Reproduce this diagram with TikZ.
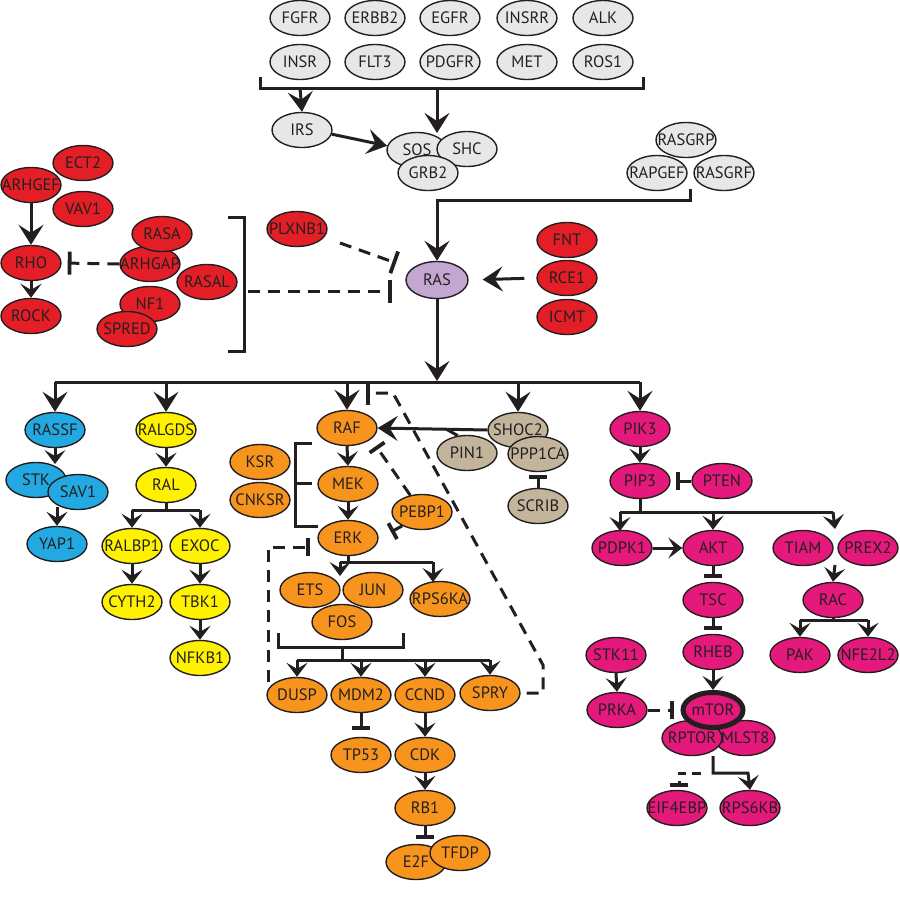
\documentclass[tikz,border=0pt]{standalone}
\usepackage{fontspec}
\setmainfont{PT Sans}
\usetikzlibrary{shapes.geometric,arrows.meta}
\definecolor{cgray}{HTML}{E6E7E8}
\definecolor{cred}{HTML}{E41E26}
\definecolor{cpur}{HTML}{C4A7D0}
\definecolor{cblue}{HTML}{22A9E1}
\definecolor{cyel}{HTML}{FFF200}
\definecolor{corg}{HTML}{F7941D}
\definecolor{ctan}{HTML}{C2B59B}
\definecolor{cpink}{HTML}{E5187C}
\definecolor{txtc}{HTML}{231F20}
\newcommand\tx[1]{\makebox[0pt]{#1}}
\tikzset{
  nd/.style={ellipse, draw=txtc, line width=1.4pt, minimum width=60pt, minimum height=35pt, inner sep=0pt, font=\fontsize{16.5}{16.5}\selectfont, text=txtc},
  ngray/.style={nd, fill=cgray},
  nred/.style={nd, fill=cred},
  npur/.style={nd, fill=cpur},
  nblue/.style={nd, fill=cblue},
  nyel/.style={nd, fill=cyel},
  norg/.style={nd, fill=corg},
  ntan/.style={nd, fill=ctan},
  npink/.style={nd, fill=cpink},
  ln/.style={line width=3pt, draw=txtc},
  ar/.style={ln, -{Stealth[length=20pt,width=25pt,inset=8pt]}},
  ars/.style={ln, -{Stealth[length=14pt,width=21pt,inset=6pt]}},
  inh/.style={ln, -{Bar[width=23pt,line width=3.8pt]}},
  inhs/.style={ln, -{Bar[width=18pt,line width=3.8pt]}},
  dsh/.style={dash pattern=on 12pt off 8pt},
}
\begin{document}
\begin{tikzpicture}[x=1pt,y=-1pt]
\useasboundingbox (0,0) rectangle (900,900);
% ---------- receptors ----------
\node[ngray] (FGFR)  at (300,18) {\tx{FGFR}};
\node[ngray] (ERBB2) at (375,18) {\tx{ERBB2}};
\node[ngray] (EGFR)  at (450,18) {\tx{EGFR}};
\node[ngray] (INSRR) at (527,18) {\tx{INSRR}};
\node[ngray] (ALK)   at (603,18) {\tx{ALK}};
\node[ngray] (INSR)  at (300,62) {\tx{INSR}};
\node[ngray] (FLT3)  at (375,62) {\tx{FLT3}};
\node[ngray] (PDGFR) at (450,62) {\tx{PDGFR}};
\node[ngray] (MET)   at (527,62) {\tx{MET}};
\node[ngray] (ROS1)  at (603,62) {\tx{ROS1}};
\node[ngray] (IRS)   at (302,130) {\tx{IRS}};
\node[ngray] (SOS)   at (417,150) {\tx{SOS}};
\node[ngray] (SHC)   at (467,149) {\tx{SHC}};
\node[ngray] (GRB2)  at (428,173) {\tx{GRB2}};
\node[ngray] (RASGRP) at (686,140) {\tx{RASGRP}};
\node[ngray] (RAPGEF) at (657,173) {\tx{RAPGEF}};
\node[ngray] (RASGRF) at (724,173) {\tx{RASGRF}};
% ---------- red ----------
\node[nred] (ECT2)   at (83,163) {\tx{ECT2}};
\node[nred] (VAV1)   at (83,209) {\tx{VAV1}};
\node[nred] (ARHGEF) at (31,185) {\tx{ARHGEF}};
\node[nred] (RHO)    at (31,263) {\tx{RHO}};
\node[nred] (ROCK)   at (31,316) {\tx{ROCK}};
\node[nred] (ARHGAP) at (150,264) {\tx{ARHGAP}};
\node[nred] (RASA)   at (162,234) {\tx{RASA}};
\node[nred] (RASAL)  at (207,282) {\tx{RASAL}};
\node[nred] (NF1)    at (150,304) {\tx{NF1}};
\node[nred] (SPRED)  at (127,329) {\tx{SPRED}};
\node[nred] (PLXNB1) at (297,229) {\tx{PLXNB1}};
\node[nred] (FNT)    at (567,240) {\tx{FNT}};
\node[nred] (RCE1)   at (567,278) {\tx{RCE1}};
\node[nred] (ICMT)   at (567,317) {\tx{ICMT}};
\node[npur, minimum width=62pt, minimum height=37pt] (RAS) at (437,280) {\tx{RAS}};
% ---------- blue ----------
\node[nblue] (RASSF) at (55,430) {\tx{RASSF}};
\node[nblue] (STK)   at (36,480) {\tx{STK}};
\node[nblue] (SAV1)  at (78,492) {\tx{SAV1}};
\node[nblue] (YAP1)  at (57,544) {\tx{YAP1}};
% ---------- yellow ----------
\node[nyel] (RALGDS) at (166,430) {\tx{RALGDS}};
\node[nyel] (RAL)    at (166,485) {\tx{RAL}};
\node[nyel] (RALBP1) at (132,546) {\tx{RALBP1}};
\node[nyel] (EXOC)   at (200,546) {\tx{EXOC}};
\node[nyel] (CYTH2)  at (132,602) {\tx{CYTH2}};
\node[nyel] (TBK1)   at (200,602) {\tx{TBK1}};
\node[nyel] (NFKB1)  at (200,658) {\tx{NFKB1}};
% ---------- orange ----------
\node[norg] (KSR)    at (260,462) {\tx{KSR}};
\node[norg] (CNKSR)  at (260,500) {\tx{CNKSR}};
\node[norg] (RAF)    at (347,428) {\tx{RAF}};
\node[norg] (MEK)    at (348,484) {\tx{MEK}};
\node[norg] (ERK)    at (348,538) {\tx{ERK}};
\node[norg] (PEBP1)  at (422,512) {\tx{PEBP1}};
\node[norg] (ETS)    at (310,590) {\tx{ETS}};
\node[norg] (JUN)    at (373,590) {\tx{JUN}};
\node[norg] (RPS6KA) at (440,599) {\tx{RPS6KA}};
\node[norg] (FOS)    at (342,622) {\tx{FOS}};
\node[norg] (DUSP)   at (297,695) {\tx{DUSP}};
\node[norg] (MDM2)   at (361,695) {\tx{MDM2}};
\node[norg] (CCND)   at (425,695) {\tx{CCND}};
\node[norg] (SPRY)   at (490,693) {\tx{SPRY}};
\node[norg] (TP53)   at (361,755) {\tx{TP53}};
\node[norg] (CDK)    at (425,755) {\tx{CDK}};
\node[norg] (RB1)    at (425,808) {\tx{RB1}};
\node[norg] (E2F)    at (416,862) {\tx{E2F}};
\node[norg] (TFDP)   at (460,853) {\tx{TFDP}};
% ---------- tan ----------
\node[ntan] (SHOC2)  at (518,430) {\tx{SHOC2}};
\node[ntan] (PIN1)   at (467,453) {\tx{PIN1}};
\node[ntan] (PPP1CA) at (538,454) {\tx{PPP1CA}};
\node[ntan] (SCRIB)  at (538,506) {\tx{SCRIB}};
% ---------- pink ----------
\node[npink] (PIK3)   at (640,429) {\tx{PIK3}};
\node[npink] (PIP3)   at (640,481) {\tx{PIP3}};
\node[npink] (PTEN)   at (722,481) {\tx{PTEN}};
\node[npink] (PDPK1)  at (622,548) {\tx{PDPK1}};
\node[npink] (AKT)    at (713,548) {\tx{AKT}};
\node[npink] (TIAM)   at (803,548) {\tx{TIAM}};
\node[npink] (PREX2)  at (868,548) {\tx{PREX2}};
\node[npink] (RAC)    at (833,600) {\tx{RAC}};
\node[npink] (PAK)    at (800,655) {\tx{PAK}};
\node[npink] (NFE2L2) at (868,655) {\tx{NFE2L2}};
\node[npink] (TSC)    at (713,600) {\tx{TSC}};
\node[npink] (RHEB)   at (713,652) {\tx{RHEB}};
\node[npink] (STK11)  at (616,655) {\tx{STK11}};
\node[npink] (PRKA)   at (617,710) {\tx{PRKA}};
\node[npink] (MLST8)  at (745,738) {\tx{MLST8}};
\node[npink] (RPTOR)  at (692,738) {\tx{RPTOR}};
\node[npink, line width=5pt] (mTOR) at (713,710) {\tx{mTOR}};
\node[npink] (EIF4EBP) at (677,808) {\tx{EIF4EBP}};
\node[npink] (RPS6KB)  at (750,808) {\tx{RPS6KB}};

% ========== connectors ==========
% receptor bracket
\coordinate (rb1) at (260,77); \coordinate (rb2) at (260,88);
\coordinate (rb3) at (643,88); \coordinate (rb4) at (643,77);
\draw[ln] (rb1) -- (rb2) -- (rb3) -- (rb4);
\coordinate (rbi) at (300,88);
\draw[ar] (rbi) -- (IRS.north);
\coordinate (rbs) at (437,88); \coordinate (sost) at (437,133);
\draw[ar] (rbs) -- (sost);
\draw[ar] (IRS.-8) -- (SOS.172);
% GEF input to RAS
\coordinate (g1) at (690,189); \coordinate (g2) at (690,200); \coordinate (g3) at (437,200);
\draw[ar] (g1) -- (g2) -- (g3) -- (RAS.north);
\draw[ar, shorten <=12pt, shorten >=14pt] (RCE1.west) -- (RAS.east);
% RAS inhibitors
\coordinate (pl1) at (340,243); \coordinate (pl2) at (396,263);
\draw[inh, dsh] (pl1) -- (pl2);
\coordinate (gb1) at (228,217); \coordinate (gb2) at (244,217);
\coordinate (gb3) at (244,351); \coordinate (gb4) at (228,351);
\draw[ln] (gb1) -- (gb2) -- (gb3) -- (gb4);
\coordinate (gbo) at (248,291); \coordinate (rasin) at (392,291);
\draw[inh, dsh] (gbo) -- (rasin);
% RHO module
\draw[inh, dsh, shorten >=6pt] (ARHGAP.west) -- (RHO.east);
\draw[ar] (ARHGEF.south) -- (RHO.north);
\draw[ars] (RHO.south) -- (ROCK.north);
% RAS output bus
\draw[ar] (RAS.south) -- (437,381);
\coordinate (bus1) at (55,382); \coordinate (bus2) at (640,382);
\draw[ln] (bus1) -- (bus2);
\draw[ar] (bus1) -- (RASSF.north);
\coordinate (busy) at (166,382);
\draw[ar] (busy) -- (RALGDS.north);
\coordinate (busr) at (347,382);
\draw[ar] (busr) -- (RAF.north);
\coordinate (buss) at (518,382);
\draw[ar] (buss) -- (SHOC2.north);
\draw[ar] (bus2) -- (PIK3.north);
% blue
\coordinate (stkt) at (55,464);
\draw[ars] (RASSF.south) -- (stkt);
\coordinate (stkb) at (57,507);
\draw[ars] (stkb) -- (YAP1.north);
% yellow
\draw[ars] (RALGDS.south) -- (RAL.north);
\coordinate (ry0) at (166,510); \coordinate (ry1) at (132,510); \coordinate (ry2) at (200,510);
\draw[ln] (RAL.south) -- (ry0);
\draw[ln] (ry1) -- (ry2);
\draw[ars] (ry1) -- (RALBP1.north);
\draw[ars] (ry2) -- (EXOC.north);
\draw[ars] (RALBP1.south) -- (CYTH2.north);
\draw[ars] (EXOC.south) -- (TBK1.north);
\draw[ars] (TBK1.south) -- (NFKB1.north);
% RAF cascade
\draw[ars] (RAF.south) -- (MEK.north);
\draw[ars] (MEK.south) -- (ERK.north);
\coordinate (kb1) at (312,443); \coordinate (kb2) at (295,443);
\coordinate (kb3) at (295,526); \coordinate (kb4) at (318,526);
\coordinate (kb5) at (295,483); \coordinate (kb6) at (312,483);
\draw[ln] (kb1) -- (kb2) -- (kb3) -- (kb4);
\draw[ln] (kb5) -- (kb6);
\coordinate (pe1) at (391,532);
\draw[inhs] (PEBP1.215) -- (pe1);
\coordinate (pe2) at (376,446);
\draw[inhs, dsh] (PEBP1.125) -- (pe2);
\draw[ar] (SHOC2.west) -- (RAF.east);
\coordinate (pinj) at (446,429);
\draw[ln] (PIN1.118) -- (pinj);
\draw[inhs, shorten >=3pt] (SCRIB.north) -- (PPP1CA.south);
% ERK outputs
\coordinate (e0) at (348,562); \coordinate (e1) at (340,562); \coordinate (e2) at (433,562);
\coordinate (e1t) at (340,576); \coordinate (e2t) at (433,582);
\draw[ln] (ERK.south) -- (e0);
\draw[ln] (e1) -- (e2);
\draw[ars] (e1) -- (e1t);
\draw[ars] (e2) -- (e2t);
\coordinate (fb1) at (278,633); \coordinate (fb2) at (278,647);
\coordinate (fb3) at (403,647); \coordinate (fb4) at (403,633);
\draw[ln] (fb1) -- (fb2) -- (fb3) -- (fb4);
\coordinate (fb5) at (342,647); \coordinate (fb6) at (342,660);
\draw[ln] (fb5) -- (fb6);
\coordinate (o1) at (297,660); \coordinate (o2) at (361,660);
\coordinate (o3) at (425,660); \coordinate (o4) at (490,660);
\draw[ln] (o1) -- (o4);
\draw[ars] (o1) -- (DUSP.north);
\draw[ars] (o2) -- (MDM2.north);
\draw[ars] (o3) -- (CCND.north);
\draw[ars] (o4) -- (SPRY.north);
% feedbacks
\coordinate (d1) at (268,682); \coordinate (d2) at (268,547); \coordinate (d3) at (310,547);
\draw[inhs, dsh] (d1) -- (d2) -- (d3);
\coordinate (s1) at (543,693); \coordinate (s2) at (543,665);
\coordinate (s3) at (393,393); \coordinate (s4) at (366,393);
\draw[inh, dsh, shorten <=6pt] (SPRY.east) -- (s1) -- (s2) -- (s3) -- (s4);
% lower orange
\draw[inhs, shorten >=7pt] (MDM2.south) -- (TP53.north);
\draw[ars] (CCND.south) -- (CDK.north);
\draw[ars] (CDK.south) -- (RB1.north);
\coordinate (e2fb) at (425,839);
\draw[inhs] (RB1.south) -- (e2fb);
% pink
\draw[ars] (PIK3.south) -- (PIP3.north);
\draw[inhs, shorten >=5pt] (PTEN.west) -- (PIP3.east);
\coordinate (p0) at (640,512); \coordinate (p1) at (620,512);
\coordinate (p2) at (713,512); \coordinate (p3) at (833,512);
\coordinate (p1t) at (620,531); \coordinate (p3t) at (835,529);
\draw[ln] (PIP3.south) -- (p0);
\draw[ln] (p1) -- (p3);
\draw[ars] (p1) -- (p1t);
\draw[ars] (p2) -- (AKT.north);
\draw[ars] (p3) -- (p3t);
\draw[ars] (PDPK1.east) -- (AKT.west);
\draw[inhs, shorten >=4pt] (AKT.south) -- (TSC.north);
\draw[inhs, shorten >=4pt] (TSC.south) -- (RHEB.north);
\coordinate (tr) at (835,565);
\draw[ars] (tr) -- (RAC.north);
\coordinate (rc0) at (833,620); \coordinate (rc1) at (800,620); \coordinate (rc2) at (868,620);
\draw[ln] (RAC.south) -- (rc0);
\draw[ln] (rc1) -- (rc2);
\draw[ars] (rc1) -- (PAK.north);
\draw[ars] (rc2) -- (NFE2L2.north);
\draw[ars] (STK11.south) -- (PRKA.north);
\draw[ars] (RHEB.south) -- (mTOR.north);
\draw[inhs, dsh, shorten >=7pt] (PRKA.east) -- (mTOR.west);
\coordinate (m1) at (713,756); \coordinate (m2) at (713,773);
\coordinate (m3) at (748,773);
\draw[ars] (m1) -- (m2) -- (m3) -- (RPS6KB.north);
\coordinate (m4) at (701,773); \coordinate (m5) at (679,773); \coordinate (m6) at (679,787);
\draw[inhs, dash pattern=on 9pt off 6pt] (m4) -- (m5) -- (m6);
\end{tikzpicture}
\end{document}
